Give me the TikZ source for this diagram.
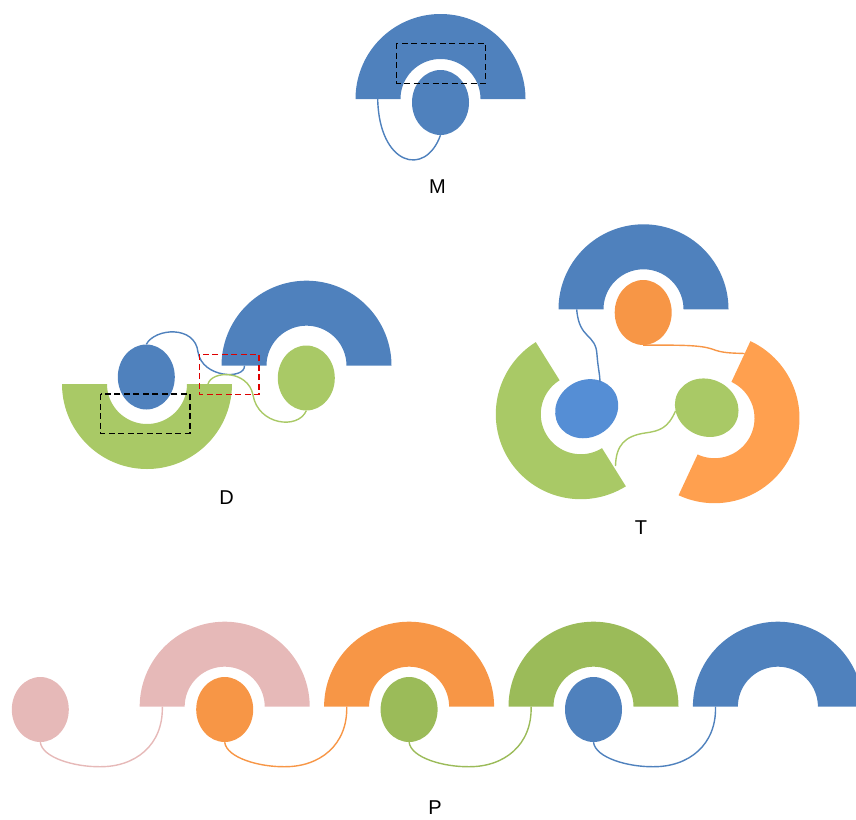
\documentclass[tikz,border=0pt]{standalone}
\usepackage{fontspec}
\setmainfont{Liberation Sans}
\usetikzlibrary{shapes.geometric}

\definecolor{cBlue}{HTML}{4F81BD}
\definecolor{cBlueLt}{HTML}{558ED5}
\definecolor{cGreen}{HTML}{9BBB59}
\definecolor{cGreenLt}{HTML}{A9C966}
\definecolor{cOrange}{HTML}{F79646}
\definecolor{cOrangeLt}{HTML}{FFA04F}
\definecolor{cPink}{HTML}{E6B9B8}
\definecolor{cRed}{HTML}{DD0000}

\tikzset{
  % half ring, opening downwards (y axis points down in the scope below)
  halfring/.pic={
    \fill[pic actions]
      plot[domain=180:360,samples=91] ({85*cos(\x)},{85*sin(\x)})
      -- plot[domain=360:180,samples=61] ({40*cos(\x)},{40*sin(\x)}) -- cycle;
  },
  ring/.style={fill=#1,transform shape},
  blob/.style={ellipse,inner sep=0pt,minimum width=57pt,minimum height=65pt,draw=none},
  wire/.style={line width=1.4pt},
  frame/.style={dash pattern=on 6pt off 3.5pt,line width=1.5pt},
  tag/.style={font=\fontsize{20}{24}\selectfont,inner sep=0pt}
}

\begin{document}
\begin{tikzpicture}[x=1pt,y=1pt]
\begin{scope}[yscale=-1]
\useasboundingbox (0,0) rectangle (856,819);
\clip (0,0) rectangle (856,819);

% ---------------- M ----------------
\pic[ring=cBlue] at (440.5,99) {halfring};
\node[blob,fill=cBlue] (me) at (440.5,102.5) {};
\coordinate (ma) at (377.7,99);
\draw[wire,cBlue] (ma) .. controls (379,165) and (425,178) .. (me.south);
\draw[frame,black] (396.7,43.3) rectangle (485.7,83.3);
\node[tag] (lm) at (437.5,187) {M};

% ---------------- D ----------------
\pic[ring=cGreenLt,rotate=180] at (147,384) {halfring};
\node[blob,fill=cBlue] (dbe) at (146.3,377) {};
\pic[ring=cBlue] at (306.5,365.7) {halfring};
\node[blob,fill=cGreenLt] (dge) at (306.3,378) {};
\coordinate (dba) at (244.5,365.7);
\coordinate (dga) at (208,384);
\draw[wire,cBlue] (dbe.north) .. controls (155,328) and (195,325) .. (198,352)
  .. controls (202,378) and (245,380) .. (dba);
\draw[wire,cGreenLt] (dga) .. controls (212,370) and (248,370) .. (253,395)
  .. controls (258,425) and (298,430) .. (dge.south);
\draw[frame,black] (100.7,394) rectangle (190,433.3);
\draw[frame,cRed] (199.3,354.3) rectangle (259,394.3);
\node[tag] (ld) at (226.7,497.5) {D};

% ---------------- T ----------------
\pic[ring=cBlue] at (643.5,309.3) {halfring};
\node[blob,fill=cOrange] (toe) at (643.2,312.5) {};
\pic[ring=cGreenLt,rotate=-122] at (580.8,414.2) {halfring};
\node[blob,fill=cBlueLt,rotate=120] (tbe) at (586.7,408.7) {};
\pic[ring=cOrangeLt,rotate=115] at (714.5,418.2) {halfring};
\node[blob,fill=cGreenLt,rotate=65] (tge) at (706.7,407.7) {};
\coordinate (tba) at (576.7,309.3);
\coordinate (tbt) at (600,382);
\coordinate (toa) at (744.5,353.5);
\coordinate (tgl) at (675.5,411);
\coordinate (tga) at (615.5,466);
\draw[wire,cBlue] (tba) .. controls (579,340) and (596,333) .. (597,355)
  .. controls (598,368) and (600,375) .. (tbt);
\draw[wire,cOrange] (toe.south) .. controls (680,345) and (700,345) .. (712,349)
  .. controls (722,353) and (730,353) .. (toa);
\draw[wire,cGreenLt] (tgl) .. controls (668,428) and (660,431) .. (645,433)
  .. controls (625,436) and (616,445) .. (tga);
\node[tag] (lt) at (641,527.5) {T};

% ---------------- P ----------------
\pic[ring=cPink] at (224.7,706.7) {halfring};
\pic[ring=cOrange] at (409.1,706.7) {halfring};
\pic[ring=cGreen] at (593.5,706.7) {halfring};
\pic[ring=cBlue] at (777.9,706.7) {halfring};
\node[blob,fill=cPink] (p0) at (40.3,709.5) {};
\node[blob,fill=cOrange] (p1) at (224.7,709.5) {};
\node[blob,fill=cGreen] (p2) at (409.1,709.5) {};
\node[blob,fill=cBlue] (p3) at (593.5,709.5) {};
\coordinate (q1) at (162.3,706.7);
\coordinate (q2) at (346.7,706.7);
\coordinate (q3) at (531.1,706.7);
\coordinate (q4) at (715.5,706.7);
\draw[wire,cPink] (p0.south) .. controls (42.3,758) and (75.3,767) .. (100,766.7)
  .. controls (135.3,767) and (163.3,745) .. (q1);
\draw[wire,cOrange] (p1.south) .. controls (226.7,758) and (259.7,767) .. (284.4,766.7)
  .. controls (319.7,767) and (347.7,745) .. (q2);
\draw[wire,cGreen] (p2.south) .. controls (411.1,758) and (444.1,767) .. (468.8,766.7)
  .. controls (504.1,767) and (532.1,745) .. (q3);
\draw[wire,cBlue] (p3.south) .. controls (595.5,758) and (628.5,767) .. (653.2,766.7)
  .. controls (688.5,767) and (716.5,745) .. (q4);
\node[tag] (lp) at (435,807.5) {P};
\end{scope}
\end{tikzpicture}
\end{document}
